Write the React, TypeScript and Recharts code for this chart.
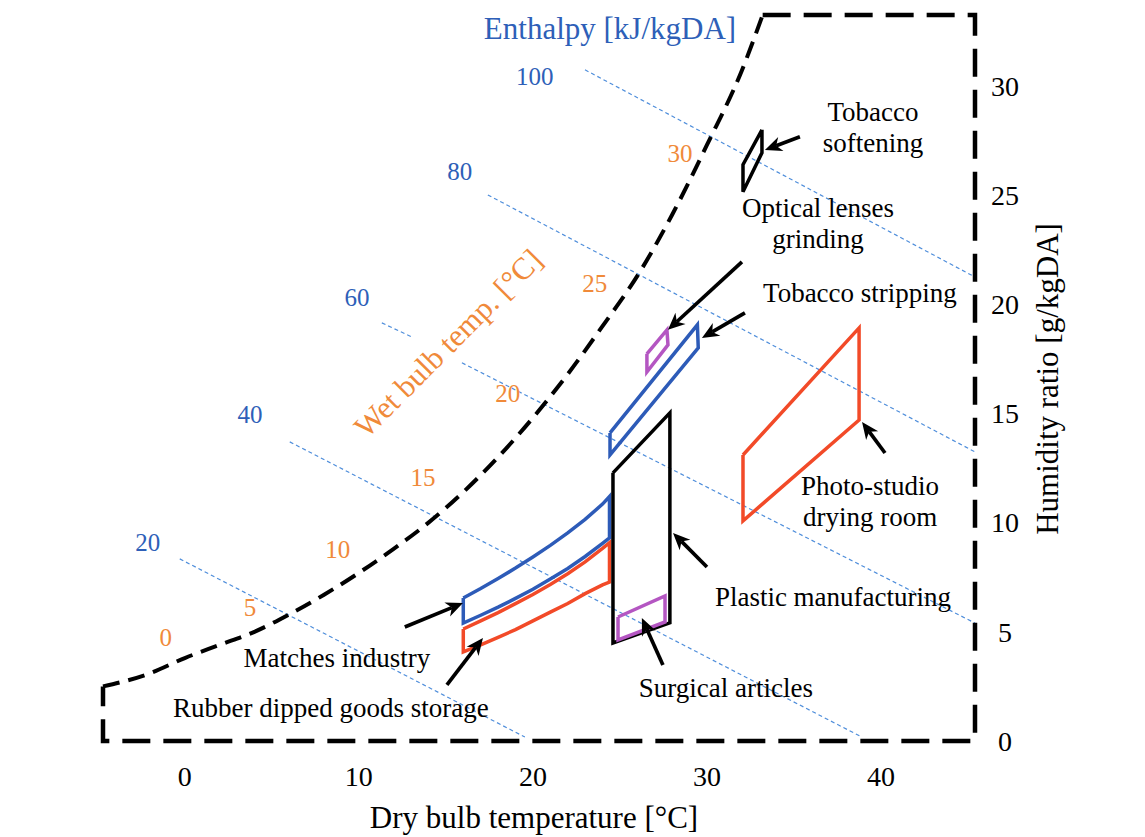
import React from 'react';
import { ComposedChart, Line, XAxis, YAxis, ReferenceLine, ReferenceDot } from 'recharts';

const xTicks = [0, 10, 20, 30, 40];
const yTicks = [0, 5, 10, 15, 20, 25, 30];
const xDomain = [-4.7, 45.4];
const yDomain = [0, 33.25];

// Saturation curve (dashed, upper-left boundary)
const saturationCurve = [
  { x: -4.7, y: 2.5 }, { x: -2, y: 3.1 }, { x: 0, y: 3.8 }, { x: 2, y: 4.4 }, { x: 4, y: 5.0 },
  { x: 6, y: 5.8 }, { x: 8, y: 6.7 }, { x: 10, y: 7.7 }, { x: 12, y: 8.8 }, { x: 14, y: 10.0 },
  { x: 16, y: 11.4 }, { x: 18, y: 13.0 }, { x: 20, y: 14.8 }, { x: 22, y: 16.8 }, { x: 24, y: 19.0 },
  { x: 26, y: 21.3 }, { x: 28, y: 24.1 }, { x: 30, y: 27.3 }, { x: 32, y: 30.7 }, { x: 33.2, y: 33.25 },
];
// Remaining chart frame (top, right, bottom, left)
const chartFrame = [
  { x: 33.2, y: 33.25 }, { x: 45.4, y: 33.25 }, { x: 45.4, y: 0 }, { x: -4.7, y: 0 }, { x: -4.7, y: 2.5 },
];

// Enthalpy lines
const enthalpy20 = [{ x: -0.29, y: 8.34 }, { x: 19.54, y: 0.18 }];
const enthalpy40 = [{ x: 6.03, y: 13.7 }, { x: 38.9, y: 0.18 }];
const enthalpy60a = [{ x: 11.32, y: 19.15 }, { x: 13.05, y: 18.5 }];
const enthalpy60b = [{ x: 15.92, y: 17.32 }, { x: 45.4, y: 5.4 }];
const enthalpy80 = [{ x: 17.41, y: 25.01 }, { x: 45.4, y: 13.24 }];
const enthalpy100 = [{ x: 22.99, y: 30.74 }, { x: 45.4, y: 21.25 }];

const enthalpyLabels = [
  { value: '20', x: -2.13, y: 9.12 },
  { value: '40', x: 3.74, y: 14.98 },
  { value: '60', x: 9.89, y: 20.34 },
  { value: '80', x: 15.8, y: 26.1 },
  { value: '100', x: 20.1, y: 30.46 },
];
const wetBulbLabels = [
  { value: '0', x: -1.09, y: 4.76 },
  { value: '5', x: 3.74, y: 6.14 },
  { value: '10', x: 8.79, y: 8.8 },
  { value: '15', x: 13.68, y: 12.09 },
  { value: '20', x: 18.56, y: 15.94 },
  { value: '25', x: 23.56, y: 20.98 },
  { value: '30', x: 28.45, y: 26.94 },
];

// Process regions
const tobaccoSoftening = [
  { x: 33.16, y: 27.99 }, { x: 33.16, y: 26.94 }, { x: 32.07, y: 25.15 }, { x: 32.07, y: 26.39 }, { x: 33.16, y: 27.99 },
];
const opticalLenses = [
  { x: 26.55, y: 17.73 }, { x: 27.7, y: 18.83 }, { x: 27.76, y: 18.14 }, { x: 26.55, y: 16.9 }, { x: 26.55, y: 17.73 },
];
const tobaccoStripping = [
  { x: 24.43, y: 14.11 }, { x: 29.45, y: 19.06 }, { x: 29.5, y: 18.0 }, { x: 24.43, y: 13.1 }, { x: 24.43, y: 14.11 },
];
const plasticManufacturing = [
  { x: 24.6, y: 12.28 }, { x: 27.87, y: 15.03 }, { x: 27.87, y: 5.41 }, { x: 24.6, y: 4.49 }, { x: 24.6, y: 12.28 },
];
const surgicalArticles = [
  { x: 24.89, y: 5.68 }, { x: 27.59, y: 6.64 }, { x: 27.59, y: 5.45 }, { x: 24.89, y: 4.63 }, { x: 24.89, y: 5.68 },
];
const photoStudio = [
  { x: 32.07, y: 13.1 }, { x: 38.74, y: 18.92 }, { x: 38.74, y: 14.7 }, { x: 32.07, y: 10.08 }, { x: 32.07, y: 13.1 },
];
const matchesIndustry = [
  { x: 16, y: 6.55 }, { x: 17, y: 6.98 }, { x: 18, y: 7.44 }, { x: 19, y: 7.92 }, { x: 20, y: 8.43 },
  { x: 21, y: 8.96 }, { x: 22, y: 9.53 }, { x: 23, y: 10.15 }, { x: 24, y: 10.85 }, { x: 24.4, y: 11.2 },
  { x: 24.4, y: 9.3 }, { x: 24, y: 9.05 }, { x: 23, y: 8.45 }, { x: 22, y: 7.9 }, { x: 21, y: 7.42 },
  { x: 20, y: 6.95 }, { x: 19, y: 6.53 }, { x: 18, y: 6.13 }, { x: 17, y: 5.76 }, { x: 16, y: 5.4 }, { x: 16, y: 6.55 },
];
const rubberStorage = [
  { x: 16, y: 5.13 }, { x: 17, y: 5.5 }, { x: 18, y: 5.88 }, { x: 19, y: 6.29 }, { x: 20, y: 6.71 },
  { x: 21, y: 7.17 }, { x: 22, y: 7.66 }, { x: 23, y: 8.2 }, { x: 24, y: 8.82 }, { x: 24.4, y: 9.08 },
  { x: 24.4, y: 7.28 }, { x: 24, y: 7.15 }, { x: 23, y: 6.75 }, { x: 22, y: 6.3 }, { x: 21, y: 5.9 },
  { x: 20, y: 5.5 }, { x: 19, y: 5.1 }, { x: 18, y: 4.75 }, { x: 17, y: 4.4 }, { x: 16, y: 4.08 }, { x: 16, y: 5.13 },
];

// Annotation arrows: tail -> head
const arrows = [
  { from: { x: 35.34, y: 27.67 }, to: { x: 33.33, y: 27.07 } },
  { from: { x: 32.01, y: 21.94 }, to: { x: 27.76, y: 18.83 } },
  { from: { x: 32.18, y: 19.61 }, to: { x: 29.71, y: 18.46 } },
  { from: { x: 40.23, y: 13.19 }, to: { x: 38.91, y: 14.61 } },
  { from: { x: 30.0, y: 7.97 }, to: { x: 28.05, y: 9.53 } },
  { from: { x: 27.47, y: 3.48 }, to: { x: 26.26, y: 5.63 } },
  { from: { x: 12.64, y: 5.22 }, to: { x: 15.98, y: 6.32 } },
  { from: { x: 15.06, y: 2.57 }, to: { x: 17.13, y: 4.72 } },
];

const processLabels = [
  { lines: ['Tobacco', 'softening'], x: 39.54, y: 28.1 },
  { lines: ['Optical lenses', 'grinding'], x: 36.38, y: 23.71 },
  { lines: ['Tobacco stripping'], x: 38.79, y: 20.52 },
  { lines: ['Photo-studio', 'drying room'], x: 39.37, y: 10.99 },
  { lines: ['Plastic manufacturing'], x: 37.24, y: 6.6 },
  { lines: ['Surgical articles'], x: 31.09, y: 2.47 },
  { lines: ['Matches industry'], x: 8.74, y: 3.8 },
  { lines: ['Rubber dipped goods storage'], x: 8.39, y: 1.51 },
];

const enthalpyTitle = { text: 'Enthalpy [kJ/kgDA]', x: 24.43, y: 32.66 };
const wetBulbTitle = { text: 'Wet bulb temp. [°C]', x: 15.11, y: 18.23 };
const xTitle = 'Dry bulb temperature [°C]';
const yTitle = 'Humidity ratio [g/kgDA]';

const SERIF = "'Liberation Serif', 'Times New Roman', serif";
const BLUE_TEXT = '#2E5FB8';
const ORANGE = '#F08A3A';
const BLUE_SHAPE = '#2D5BB8';
const RED = '#F24A28';
const PURPLE = '#B456C2';
const ENTH_LINE = '#4F8EDB';

const ArrowShape = (props: any) => {
  const { x1, y1, x2, y2 } = props;
  const dx = x2 - x1;
  const dy = y2 - y1;
  const len = Math.hypot(dx, dy) || 1;
  const ux = dx / len;
  const uy = dy / len;
  const head = 17;
  const half = 7.5;
  const notch = 5;
  const bx = x2 - ux * head;
  const by = y2 - uy * head;
  const nx = -uy;
  const ny = ux;
  const mx = x2 - ux * (head - notch);
  const my = y2 - uy * (head - notch);
  const pts = `${x2},${y2} ${bx + nx * half},${by + ny * half} ${mx},${my} ${bx - nx * half},${by - ny * half}`;
  return (
    <g>
      <line x1={x1} y1={y1} x2={mx} y2={my} stroke="#000" strokeWidth={3.7} />
      <polygon points={pts} fill="#000" />
    </g>
  );
};

const makeText = (lines: string[], color: string, size: number, lh: number, rotate?: number) => (p: any) => {
  const { cx, cy } = p;
  const n = lines.length;
  return (
    <g transform={rotate ? `rotate(${rotate} ${cx} ${cy})` : undefined}>
      {lines.map((l, i) => (
        <text
          key={i}
          x={cx}
          y={cy + (i - (n - 1) / 2) * lh}
          dy="0.35em"
          textAnchor="middle"
          fontFamily={SERIF}
          fontSize={size}
          fill={color}
        >
          {l}
        </text>
      ))}
    </g>
  );
};

const XTick = (p: any) => (
  <text x={p.x} y={p.y + 35} dy="0.35em" textAnchor="middle" fontFamily={SERIF} fontSize={28} fill="#000">
    {p.payload.value}
  </text>
);
const YTick = (p: any) => (
  <text x={p.x + 30} y={p.y} dy="0.35em" textAnchor="middle" fontFamily={SERIF} fontSize={28} fill="#000">
    {p.payload.value}
  </text>
);

const XTitle = (p: any) => {
  const vb = p.viewBox || {};
  return (
    <text x={vb.x + vb.width / 2 - 5} y={vb.y + 87} textAnchor="middle" fontFamily={SERIF} fontSize={31} fill="#000">
      {xTitle}
    </text>
  );
};
const YTitle = (p: any) => {
  const vb = p.viewBox || {};
  const x = vb.x + 72;
  const y = vb.y + vb.height / 2 + 1;
  return (
    <text x={x} y={y} dy="0.35em" textAnchor="middle" fontFamily={SERIF} fontSize={31} fill="#000" transform={`rotate(-90 ${x} ${y})`}>
      {yTitle}
    </text>
  );
};

const shapeLine = (key: string, data: any[], color: string, width = 3.5) => (
  <Line
    key={key}
    data={data}
    dataKey="y"
    type="linear"
    stroke={color}
    strokeWidth={width}
    strokeLinejoin="miter"
    dot={false}
    activeDot={false}
    isAnimationActive={false}
  />
);

const enthLine = (key: string, data: any[]) => (
  <Line
    key={key}
    data={data}
    dataKey="y"
    type="linear"
    stroke={ENTH_LINE}
    strokeWidth={1.2}
    strokeDasharray="4 3"
    dot={false}
    activeDot={false}
    isAnimationActive={false}
  />
);

export default function App() {
  return (
    <div style={{ width: 1137, height: 829, background: '#fff' }}>
      <ComposedChart width={1137} height={829} margin={{ top: 7, left: 95, right: 70, bottom: 36 }}>
        <XAxis
          dataKey="x"
          type="number"
          domain={xDomain}
          ticks={xTicks}
          interval={0}
          axisLine={false}
          tickLine={false}
          tickSize={0}
          tickMargin={0}
          height={60}
          tick={<XTick />}
          label={{ content: <XTitle /> } as any}
        />
        <YAxis
          dataKey="y"
          type="number"
          orientation="right"
          domain={yDomain}
          ticks={yTicks}
          interval={0}
          axisLine={false}
          tickLine={false}
          tickSize={0}
          tickMargin={0}
          width={100}
          tick={<YTick />}
          label={{ content: <YTitle /> } as any}
        />
        {enthLine('e20', enthalpy20)}
        {enthLine('e40', enthalpy40)}
        {enthLine('e60a', enthalpy60a)}
        {enthLine('e60b', enthalpy60b)}
        {enthLine('e80', enthalpy80)}
        {enthLine('e100', enthalpy100)}
        <Line
          data={chartFrame}
          dataKey="y"
          type="linear"
          stroke="#000"
          strokeWidth={4.5}
          strokeDasharray="28 13"
          dot={false}
          activeDot={false}
          isAnimationActive={false}
        />
        <Line
          data={saturationCurve}
          dataKey="y"
          type="monotone"
          stroke="#000"
          strokeWidth={4}
          strokeDasharray="17 9"
          dot={false}
          activeDot={false}
          isAnimationActive={false}
        />
        {shapeLine('rubber', rubberStorage, RED)}
        {shapeLine('matches', matchesIndustry, BLUE_SHAPE)}
        {shapeLine('plastic', plasticManufacturing, '#000')}
        {shapeLine('surgical', surgicalArticles, PURPLE)}
        {shapeLine('stripping', tobaccoStripping, BLUE_SHAPE)}
        {shapeLine('optical', opticalLenses, PURPLE)}
        {shapeLine('softening', tobaccoSoftening, '#000')}
        {shapeLine('photo', photoStudio, RED)}
        {arrows.map((a, i) => (
          <ReferenceLine key={`a${i}`} segment={[a.from, a.to]} shape={ArrowShape} />
        ))}
        {enthalpyLabels.map((l) => (
          <ReferenceDot key={`el${l.value}`} x={l.x} y={l.y} shape={makeText([l.value], BLUE_TEXT, 25, 30)} />
        ))}
        {wetBulbLabels.map((l) => (
          <ReferenceDot key={`wl${l.value}`} x={l.x} y={l.y} shape={makeText([l.value], ORANGE, 25, 30)} />
        ))}
        {processLabels.map((l, i) => (
          <ReferenceDot key={`pl${i}`} x={l.x} y={l.y} shape={makeText(l.lines, '#000', 27, 31)} />
        ))}
        <ReferenceDot x={enthalpyTitle.x} y={enthalpyTitle.y} shape={makeText([enthalpyTitle.text], BLUE_TEXT, 31, 32)} />
        <ReferenceDot x={wetBulbTitle.x} y={wetBulbTitle.y} shape={makeText([wetBulbTitle.text], ORANGE, 31, 32, -45)} />
      </ComposedChart>
    </div>
  );
}
